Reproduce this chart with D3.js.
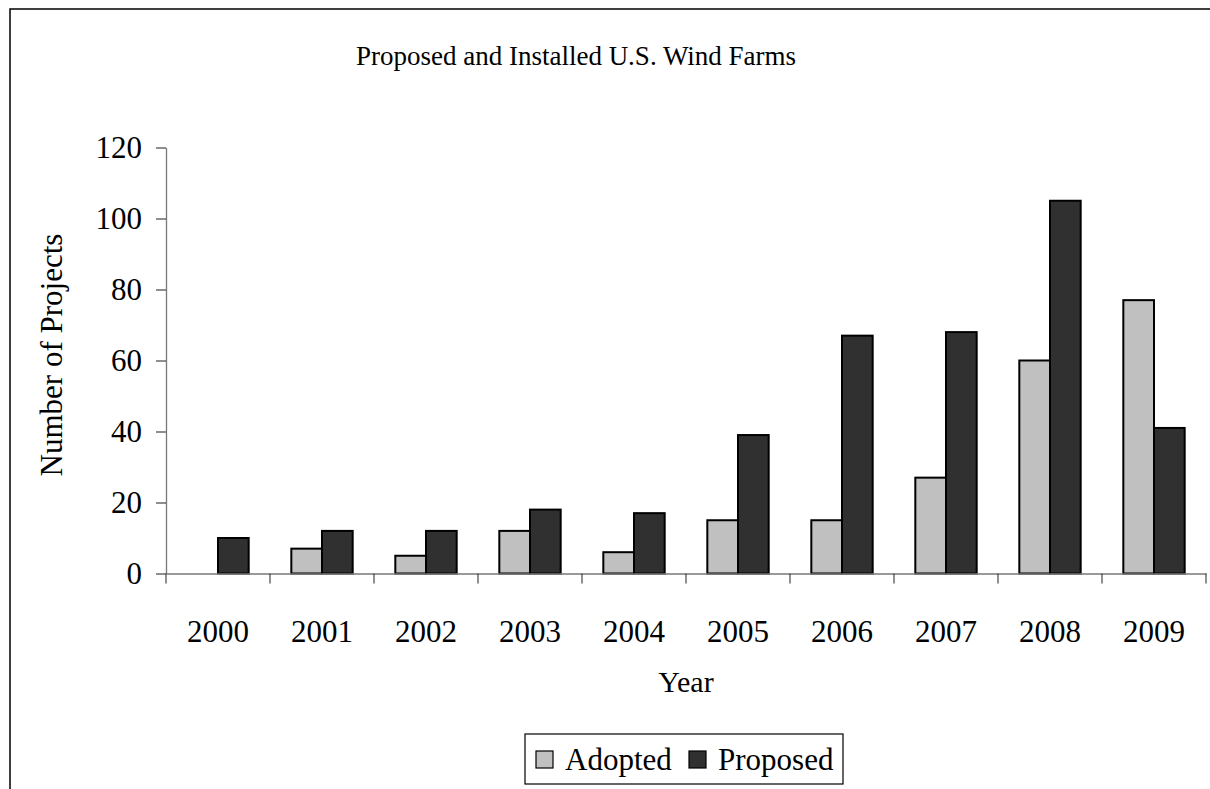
<!DOCTYPE html>
<html>
<head>
<meta charset="utf-8">
<script src="https://cdn.jsdelivr.net/npm/d3@7"></script>
<style>
  body { margin: 0; background: #fff; }
  svg { display: block; }
  text { font-family: "Liberation Serif", "Times New Roman", serif; fill: #000; }
</style>
</head>
<body>
<svg id="chart" width="1210" height="789"></svg>
<script>
// data
var years = ["2000", "2001", "2002", "2003", "2004", "2005", "2006", "2007", "2008", "2009"];
var adopted = [0, 7, 5, 12, 6, 15, 15, 27, 60, 77];
var proposed = [10, 12, 12, 18, 17, 39, 67, 68, 105, 41];
var seriesNames = ["Adopted", "Proposed"];
var seriesColors = ["#c0c0c0", "#303030"];
var yTicks = [0, 20, 40, 60, 80, 100, 120];

var svg = d3.select("#chart");

// outer frame (runs past the right and bottom edges)
svg.append("rect")
    .attr("x", 10).attr("y", 9)
    .attr("width", 1400).attr("height", 1000)
    .attr("fill", "none")
    .attr("stroke", "#000")
    .attr("stroke-width", 1.5);

var plotLeft = 166, plotRight = 1206, plotTop = 147.5, plotBottom = 573.5;

var x = d3.scaleBand()
    .domain(years)
    .range([plotLeft, plotRight]);

var x1 = d3.scaleBand()
    .domain(seriesNames)
    .range([x.bandwidth() * 0.205, x.bandwidth() * 0.795]);

var y = d3.scaleLinear()
    .domain([0, 120])
    .range([plotBottom, plotTop]);

// title
svg.append("text")
    .attr("x", 576).attr("y", 65)
    .attr("text-anchor", "middle")
    .style("font-size", "27px")
    .text("Proposed and Installed U.S. Wind Farms");

// bars
var rows = years.map(function(yr, i){
    return { year: yr, values: [adopted[i], proposed[i]] };
});

var groups = svg.append("g")
    .selectAll("g")
    .data(rows)
    .enter()
    .append("g")
    .attr("transform", function(d){ return "translate(" + x(d.year) + ",0)"; });

groups.selectAll("rect")
    .data(function(d){
        return d.values.map(function(v, j){ return { key: seriesNames[j], value: v, color: seriesColors[j] }; })
            .filter(function(e){ return e.value > 0; });
    })
    .enter()
    .append("rect")
    .attr("x", function(d){ return x1(d.key); })
    .attr("width", x1.bandwidth())
    .attr("y", function(d){ return y(d.value); })
    .attr("height", function(d){ return y(0) - y(d.value); })
    .attr("fill", function(d){ return d.color; })
    .attr("stroke", "#000")
    .attr("stroke-width", 2);

// y axis
var yAxis = svg.append("g")
    .attr("transform", "translate(" + plotLeft + ",0)")
    .call(d3.axisLeft(y).tickValues(yTicks).tickSize(10).tickPadding(14).tickSizeOuter(0));
yAxis.select(".domain").attr("stroke", "#777").attr("stroke-width", 1.3);
yAxis.selectAll(".tick line").attr("stroke", "#444").attr("stroke-width", 1.2);
yAxis.selectAll(".tick text")
    .style("font-size", "31px")
    .style("font-family", "Liberation Serif, serif");

// x axis: labels centred in bands, ticks on band edges
var xAxis = svg.append("g")
    .attr("transform", "translate(0," + plotBottom + ")")
    .call(d3.axisBottom(x).tickSize(0).tickPadding(46).tickSizeOuter(0));
xAxis.select(".domain").attr("stroke", "#777").attr("stroke-width", 1.3);
xAxis.selectAll(".tick text")
    .style("font-size", "31px")
    .style("font-family", "Liberation Serif, serif");

var edges = years.map(function(yr){ return x(yr); }).concat([plotRight]);
svg.append("g")
    .selectAll("line")
    .data(edges)
    .enter()
    .append("line")
    .attr("x1", function(d){ return d; })
    .attr("x2", function(d){ return d; })
    .attr("y1", plotBottom)
    .attr("y2", plotBottom + 10)
    .attr("stroke", "#444")
    .attr("stroke-width", 1.2);

// axis titles
svg.append("text")
    .attr("x", 686).attr("y", 692)
    .attr("text-anchor", "middle")
    .style("font-size", "30px")
    .text("Year");

svg.append("text")
    .attr("transform", "translate(62,355) rotate(-90)")
    .attr("text-anchor", "middle")
    .style("font-size", "31px")
    .text("Number of Projects");

// legend
var legend = svg.append("g");
legend.append("rect")
    .attr("x", 525).attr("y", 734)
    .attr("width", 318).attr("height", 50)
    .attr("fill", "#fff")
    .attr("stroke", "#000")
    .attr("stroke-width", 1.2);

var legendX = [536, 689];
seriesNames.forEach(function(name, i){
    legend.append("rect")
        .attr("x", legendX[i]).attr("y", 751)
        .attr("width", 17).attr("height", 17)
        .attr("fill", seriesColors[i])
        .attr("stroke", "#000")
        .attr("stroke-width", 1.2);
    legend.append("text")
        .attr("x", legendX[i] + 29).attr("y", 770)
        .style("font-size", "31px")
        .text(name);
});
</script>
</body>
</html>
